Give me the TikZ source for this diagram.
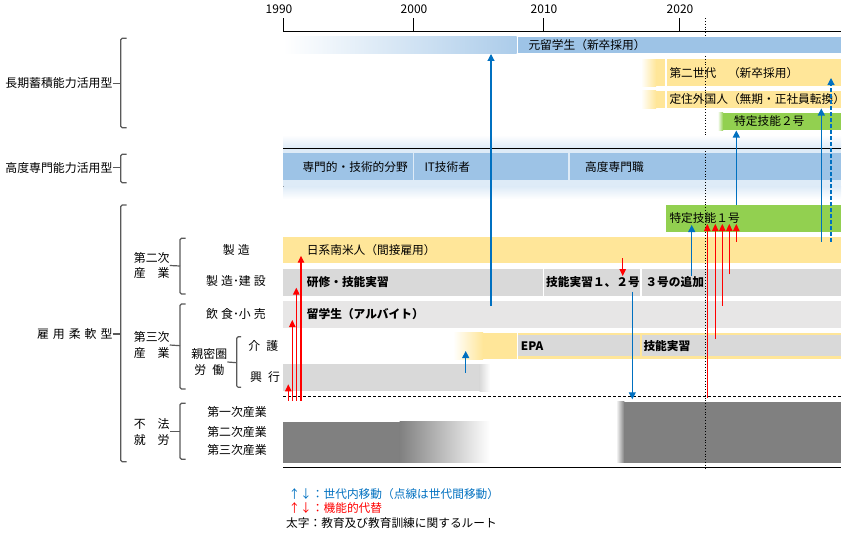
\documentclass[tikz,border=0pt]{standalone}
\usepackage{fontspec}
\setmainfont{Noto Sans CJK JP}
\usetikzlibrary{arrows.meta}
\definecolor{barblue}{HTML}{9DC3E6}
\definecolor{bandblue}{HTML}{DEEBF7}
\definecolor{baryellow}{HTML}{FFE699}
\definecolor{bargreen}{HTML}{92D050}
\definecolor{bargray}{HTML}{D9D9D9}
\definecolor{barlgray}{HTML}{E7E6E6}
\definecolor{illgray}{HTML}{808080}
\definecolor{arrblue}{HTML}{0070C0}
\definecolor{arrred}{HTML}{FF0000}
\definecolor{brk}{HTML}{595959}
\newcommand{\gp}{\hspace{4pt}}
\begin{document}
\begin{tikzpicture}[x=1pt,y=-1pt,
  txt/.style={anchor=west, inner sep=0pt, font=\fontsize{11.7}{14}\selectfont},
  btxt/.style={anchor=west, inner sep=0pt, font=\fontsize{11.7}{14}\selectfont\bfseries},
  lbl/.style={inner sep=0pt, align=center, font=\fontsize{11.9}{15.6}\selectfont},
  yr/.style={inner sep=0pt, font=\fontsize{12}{14}\selectfont},
  rule/.style={draw=black, line width=1pt},
  bracket/.style={draw=brk, line width=1.2pt, rounded corners=1.5pt},
  barrow/.style={draw=arrblue, line width=1.1pt, -{Triangle[width=7pt,length=7pt]}},
  rarrow/.style={draw=arrred, line width=1.1pt, -{Triangle[width=6.5pt,length=7pt]}}]
\useasboundingbox (0,0) rectangle (846,535);

% ---------- axis ----------
\draw[rule] (283.3,31.7) -- (841,31.7);
\foreach \x in {283.3,413.3,543.3,679.3} \draw[rule] (\x,18.3) -- (\x,31.7);
\node[yr] (y1990) at (279,9.5) {1990};
\node[yr] (y2000) at (414,9.5) {2000};
\node[yr] (y2010) at (544,9.5) {2010};
\node[yr] (y2020) at (680,9.5) {2020};

% ---------- long-term rows ----------
\shade[left color=white, right color=barblue!85] (283.3,36.7) rectangle (516.7,53.3);
\fill[barblue] (518.3,36.7) rectangle (841,53.3);
\node[txt] (r1) at (528.3,45) {元留学生（新卒採用）};

\shade[left color=white, right color=baryellow] (641,59.3) rectangle (656,86);
\fill[baryellow] (655.5,59.3) rectangle (665.3,86);
\fill[baryellow] (666.7,59.3) rectangle (841,86);
\node[txt] (r2) at (669.3,72.7) {第二世代　（新卒採用）};

\shade[left color=white, right color=baryellow] (641,90.7) rectangle (656,108.3);
\fill[baryellow] (655.5,90.7) rectangle (665.3,108.3);
\fill[baryellow] (666.7,90.7) rectangle (841,108.3);
\node[txt] (r3) at (669.3,99.5) {定住外国人（無期・正社員転換）};

\shade[left color=white, right color=bargreen] (717.7,112.7) rectangle (723,130);
\fill[bargreen] (722.5,112.7) rectangle (841,130);
\node[txt] (r4) at (734,121.3) {特定技能２号};

% ---------- high-skill band ----------
\shade[top color=white, bottom color=bandblue] (283.3,135) rectangle (841,148.3);
\fill[bandblue] (283.3,148.3) rectangle (841,186);
\fill[barblue] (283.3,153.3) rectangle (412.5,180);
\fill[barblue] (414.2,153.3) rectangle (568.3,180);
\fill[barblue] (570,153.3) rectangle (841,180);
\draw[rule] (283.3,148.3) -- (841,148.3);
\draw[rule] (283.3,186) -- (841,186);
\shade[top color=bandblue, bottom color=white] (283.3,186.5) rectangle (841,199);
\node[txt] (h1) at (302.3,166.7) {専門的・技術的分野};
\node[txt] (h2) at (424.3,166.7) {IT技術者};
\node[txt] (h3) at (585,166.7) {高度専門職};

% ---------- flexible rows ----------
\fill[bargreen] (666,205) rectangle (841,231.7);
\node[txt] (g1) at (669.3,218.3) {特定技能１号};

\fill[baryellow] (283.3,236.7) rectangle (841,263.3);
\node[txt] (f1) at (306.7,250) {日系南米人（間接雇用）};

\fill[bargray] (283.3,268.7) rectangle (542.5,296);
\fill[bargray] (544.2,268.7) rectangle (640,296);
\fill[bargray] (641.5,268.7) rectangle (841,296);
\node[btxt] (f2) at (306.7,282.3) {研修・技能実習};
\node[btxt] (f3) at (546,282.3) {技能実習１、２号};
\node[btxt] (f4) at (645.3,282.3) {３号の追加};

\fill[barlgray] (283.3,301) rectangle (841,327.7);
\node[btxt] (f5) at (306.7,314.3) {留学生（アルバイト）};

\shade[left color=white, right color=baryellow] (453,332.7) rectangle (483,359);
\fill[baryellow] (482.5,332.7) rectangle (516.7,359);
\fill[baryellow] (518.3,332.7) rectangle (841,359);
\fill[bargray] (518.3,335.3) rectangle (640,356);
\fill[bargray] (641.5,335.3) rectangle (841,356);
\node[btxt] (f6) at (520.7,345.7) {EPA};
\node[btxt] (f7) at (643.3,345.7) {技能実習};

\fill[bargray] (283.3,364) rectangle (480,391);
\shade[left color=bargray, right color=white] (479.5,364) rectangle (490,391);

\draw[black, line width=0.9pt, dash pattern=on 3pt off 2pt] (283.3,396.7) -- (841,396.7);

\fill[illgray] (283.3,421.7) rectangle (400,462.7);
\shade[left color=illgray, right color=white] (399.5,421.7) rectangle (490,462.7);
\shade[left color=white, right color=illgray] (616,401.7) rectangle (624.3,462.7);
\fill[illgray] (624,401.7) rectangle (841,462.7);

\draw[rule] (283.3,467.7) -- (841,467.7);

% ---------- dotted "now" line ----------
\coordinate (d0) at (705.3,18.3);
\coordinate (d1) at (705.3,36.7);
\coordinate (d2) at (705.3,56);
\coordinate (d3) at (705.3,135);
\coordinate (d4) at (705.3,148.3);
\coordinate (d5) at (705.3,470);
\draw[dotted, line width=0.8pt] (d0) -- (d1);
\draw[dotted, line width=0.8pt] (d2) -- (d3);
\draw[dotted, line width=0.8pt] (d4) -- (d5);

% ---------- blue arrows ----------
\coordinate (b1s) at (491,306);     \coordinate (b1e) at (491,54);
\coordinate (b2s) at (465.7,372.7); \coordinate (b2e) at (465.7,351);
\coordinate (b3s) at (632.3,291.7); \coordinate (b3e) at (632.3,399.3);
\coordinate (b4s) at (691.7,276);   \coordinate (b4e) at (691.7,225);
\coordinate (b5s) at (736.3,205);   \coordinate (b5e) at (736.3,130.5);
\coordinate (b6s) at (821.3,241.7); \coordinate (b6e) at (821.3,108.5);
\coordinate (b7s) at (831,241.7);   \coordinate (b7e) at (831,78);
\draw[barrow] (b1s) -- (b1e);
\draw[barrow] (b2s) -- (b2e);
\draw[barrow] (b3s) -- (b3e);
\draw[barrow] (b4s) -- (b4e);
\draw[barrow] (b5s) -- (b5e);
\draw[barrow] (b6s) -- (b6e);
\draw[barrow, dash pattern=on 4pt off 2pt] (b7s) -- (b7e);

% ---------- red arrows ----------
\coordinate (ra1s) at (288.3,400.7); \coordinate (ra1e) at (288.3,384.3);
\coordinate (ra2s) at (292.3,400.7); \coordinate (ra2e) at (292.3,320);
\coordinate (ra3s) at (296.3,400.7); \coordinate (ra3e) at (296.3,287.7);
\coordinate (ra4s) at (301,400.7);   \coordinate (ra4e) at (301,255.7);
\coordinate (rb1s) at (707.3,398);   \coordinate (rb1e) at (707.3,224);
\coordinate (rb2s) at (715.3,339);   \coordinate (rb2e) at (715.3,224);
\coordinate (rb3s) at (722.3,305.7); \coordinate (rb3e) at (722.3,224);
\coordinate (rb4s) at (729.3,274.3); \coordinate (rb4e) at (729.3,224);
\coordinate (rb5s) at (736.3,241.7); \coordinate (rb5e) at (736.3,224);
\coordinate (rcs) at (622.7,258.3);  \coordinate (rce) at (622.7,276);
\foreach \n in {ra1,ra2,ra3,ra4,rb1,rb2,rb3,rb4,rb5,rc}
  \draw[rarrow] (\n s) -- (\n e);

% ---------- left labels ----------
\node[lbl, anchor=east] (L1) at (112.7,83.3) {長期蓄積能力活用型};
\node[lbl, anchor=east] (L2) at (112.7,167.7) {高度専門能力活用型};
\node[lbl, anchor=east] (L3) at (112.7,334) {雇\gp 用\gp 柔\gp 軟\gp 型};
\draw[bracket] (126.7,38.3) -- (120.7,38.3) -- (120.7,127.7) -- (126.7,127.7);
\draw[bracket] (L1.east) -- (120.7,83.3);
\draw[bracket] (126.7,154.3) -- (120.7,154.3) -- (120.7,182.7) -- (126.7,182.7);
\draw[bracket] (L2.east) -- (120.7,167.7);
\draw[bracket] (126.7,205) -- (120.7,205) -- (120.7,461.7) -- (126.7,461.7);
\draw[bracket] (L3.east) -- (120.7,334);

\node[lbl] (S1) at (151.7,265.5) {第二次\\産　業};
\node[lbl] (S2) at (151.7,345) {第三次\\産　業};
\node[lbl] (S3) at (151.7,431.7) {不　法\\就　労};
\draw[bracket] (185.5,238.3) -- (180,238.3) -- (180,294) -- (185.5,294);
\draw[bracket] (S1.east) -- (180,266);
\draw[bracket] (185.5,304) -- (180,304) -- (180,389) -- (185.5,389);
\draw[bracket] (S2.east) -- (180,345.7);
\draw[bracket] (185.5,403.3) -- (180,403.3) -- (180,459.3) -- (185.5,459.3);
\draw[bracket] (S3.east) -- (180,431.7);

\node[lbl] (T1) at (236.3,250) {製\hspace{3pt}造};
\node[lbl] (T2) at (236,280.7) {製\hspace{3pt}造･建\hspace{3pt}設};
\node[lbl] (T3) at (236,314) {飲\hspace{3pt}食･小\hspace{3pt}売};
\node[lbl] (T4) at (209.3,362) {親密圏\\労\hspace{6pt}働};
\draw[bracket] (241,336.7) -- (236.7,336.7) -- (236.7,387.3) -- (241,387.3);
\draw[bracket] (T4.east) -- (236.7,362.7);
\node[lbl] (T5) at (263.3,345.7) {介\hspace{6pt}護};
\node[lbl] (T6) at (265,377.3) {興\hspace{6pt}行};
\node[lbl] (T7) at (237,411.7) {第一次産業};
\node[lbl] (T8) at (237,431.7) {第二次産業};
\node[lbl] (T9) at (237,450) {第三次産業};

% ---------- legend ----------
\node[txt, text=arrblue] (leg1) at (288.3,494.3) {↑↓：世代内移動（点線は世代間移動）};
\node[txt, text=arrred] (leg2) at (288.3,507.7) {↑↓：機能的代替};
\node[txt] (leg3) at (286,523.3) {太字：教育及び教育訓練に関するルート};
\end{tikzpicture}
\end{document}
